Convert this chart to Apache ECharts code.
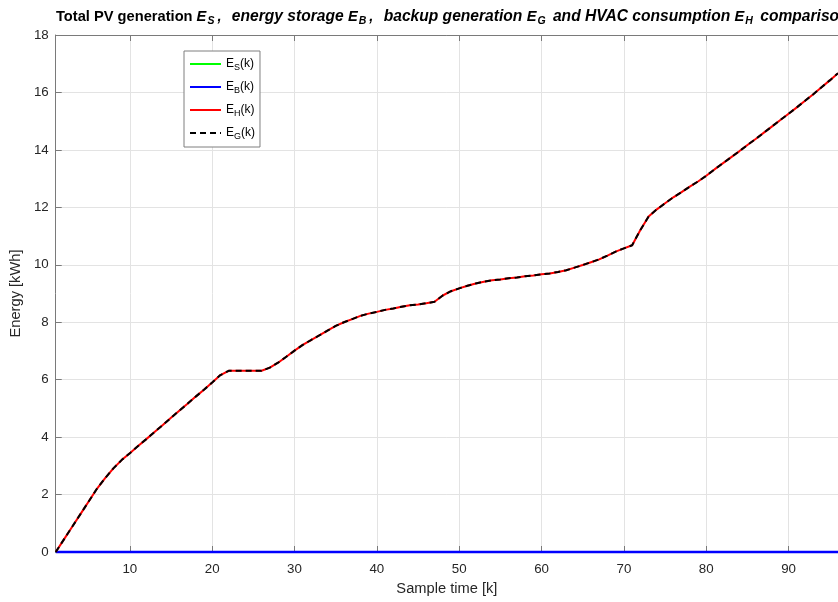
<!DOCTYPE html>
<html>
<head>
<meta charset="utf-8">
<script src="https://cdn.jsdelivr.net/npm/echarts@6/dist/echarts.min.js"></script>
<style>
  html, body { margin: 0; padding: 0; background: #fff; }
  #chart { width: 838px; height: 602px; }
</style>
</head>
<body>
<div id="chart"></div>
<script>
// Sample index k = 1 .. 96
const sampleTimes = [
  1, 2, 3, 4, 5, 6, 7, 8, 9, 10, 11, 12, 13, 14, 15, 16, 17, 18, 19, 20,
  21, 22, 23, 24, 25, 26, 27, 28, 29, 30, 31, 32, 33, 34, 35, 36, 37, 38, 39, 40,
  41, 42, 43, 44, 45, 46, 47, 48, 49, 50, 51, 52, 53, 54, 55, 56, 57, 58, 59, 60,
  61, 62, 63, 64, 65, 66, 67, 68, 69, 70, 71, 72, 73, 74, 75, 76, 77, 78, 79, 80,
  81, 82, 83, 84, 85, 86, 87, 88, 89, 90, 91, 92, 93, 94, 95, 96
];

// Cumulative PV generation E_S [kWh]
const energyPV = [
  0, 0, 0, 0, 0, 0, 0, 0, 0, 0, 0, 0, 0, 0, 0, 0, 0, 0, 0, 0,
  0, 0, 0, 0, 0, 0, 0, 0, 0, 0, 0, 0, 0, 0, 0, 0, 0, 0, 0, 0,
  0, 0, 0, 0, 0, 0, 0, 0, 0, 0, 0, 0, 0, 0, 0, 0, 0, 0, 0, 0,
  0, 0, 0, 0, 0, 0, 0, 0, 0, 0, 0, 0, 0, 0, 0, 0, 0, 0, 0, 0,
  0, 0, 0, 0, 0, 0, 0, 0, 0, 0, 0, 0, 0, 0, 0, 0
];

// Cumulative storage energy E_B [kWh]
const energyStorage = [
  0, 0, 0, 0, 0, 0, 0, 0, 0, 0, 0, 0, 0, 0, 0, 0, 0, 0, 0, 0,
  0, 0, 0, 0, 0, 0, 0, 0, 0, 0, 0, 0, 0, 0, 0, 0, 0, 0, 0, 0,
  0, 0, 0, 0, 0, 0, 0, 0, 0, 0, 0, 0, 0, 0, 0, 0, 0, 0, 0, 0,
  0, 0, 0, 0, 0, 0, 0, 0, 0, 0, 0, 0, 0, 0, 0, 0, 0, 0, 0, 0,
  0, 0, 0, 0, 0, 0, 0, 0, 0, 0, 0, 0, 0, 0, 0, 0
];

// Cumulative HVAC consumption E_H [kWh]
const energyHVAC = [
  0, 0.44, 0.88, 1.32, 1.76, 2.2, 2.57, 2.91, 3.2, 3.44,
  3.69, 3.93, 4.18, 4.42, 4.67, 4.92, 5.16, 5.41, 5.65, 5.9,
  6.16, 6.31, 6.31, 6.31, 6.31, 6.31, 6.42, 6.59, 6.8, 7.01,
  7.21, 7.38, 7.54, 7.71, 7.87, 8.0, 8.11, 8.22, 8.3, 8.36,
  8.43, 8.48, 8.54, 8.59, 8.62, 8.66, 8.71, 8.93, 9.08, 9.18,
  9.27, 9.35, 9.41, 9.46, 9.49, 9.53, 9.56, 9.6, 9.63, 9.67,
  9.7, 9.75, 9.81, 9.9, 9.99, 10.09, 10.19, 10.32, 10.46, 10.57,
  10.68, 11.21, 11.68, 11.93, 12.14, 12.35, 12.53, 12.72, 12.9, 13.1,
  13.32, 13.53, 13.74, 13.95, 14.17, 14.38, 14.6, 14.82, 15.04, 15.26,
  15.48, 15.71, 15.94, 16.18, 16.42, 16.67
];

// Cumulative backup generation E_G [kWh]
const energyBackup = [
  0, 0.44, 0.88, 1.32, 1.76, 2.2, 2.57, 2.91, 3.2, 3.44,
  3.69, 3.93, 4.18, 4.42, 4.67, 4.92, 5.16, 5.41, 5.65, 5.9,
  6.16, 6.31, 6.31, 6.31, 6.31, 6.31, 6.42, 6.59, 6.8, 7.01,
  7.21, 7.38, 7.54, 7.71, 7.87, 8.0, 8.11, 8.22, 8.3, 8.36,
  8.43, 8.48, 8.54, 8.59, 8.62, 8.66, 8.71, 8.93, 9.08, 9.18,
  9.27, 9.35, 9.41, 9.46, 9.49, 9.53, 9.56, 9.6, 9.63, 9.67,
  9.7, 9.75, 9.81, 9.9, 9.99, 10.09, 10.19, 10.32, 10.46, 10.57,
  10.68, 11.21, 11.68, 11.93, 12.14, 12.35, 12.53, 12.72, 12.9, 13.1,
  13.32, 13.53, 13.74, 13.95, 14.17, 14.38, 14.6, 14.82, 15.04, 15.26,
  15.48, 15.71, 15.94, 16.18, 16.42, 16.67
];

const seriesNames = ['E_S(k)', 'E_B(k)', 'E_H(k)', 'E_G(k)'];

const FONT = '"Liberation Sans", Arial, Helvetica, sans-serif';
const TEXT_COLOR = '#262626';
const AXIS_COLOR = '#7a7a7a';
const GRID_COLOR = '#e3e3e3';

function pairs(values) {
  return sampleTimes.map((k, i) => [k, values[i]]);
}

// Title styles: upright bold lead-in, then bold italic text with subscripts
const titleBase = { fontFamily: FONT, fontSize: 14.67, fontWeight: 'bold', color: '#000', lineHeight: 22 };
const titleSym = Object.assign({}, titleBase, { fontStyle: 'italic' });
const titleItalic = Object.assign({}, titleBase, { fontStyle: 'italic', fontSize: 15.6 });
const titleComma = Object.assign({}, titleSym, { padding: [0, 6, 0, 0] });
const titleSub = Object.assign({}, titleBase, { fontStyle: 'italic', fontSize: 10.5, padding: [9, 3, 0, 1] });

const chart = echarts.init(document.getElementById('chart'), null, { renderer: 'canvas' });

chart.setOption({
  animation: false,
  backgroundColor: '#fff',
  title: {
    left: 56,
    top: 6,
    padding: 0,
    text: '{b|Total PV generation }{e|E}{s|S}{c|,}{i| energy storage }{e|E}{s|B}{c|,}{i| backup generation }' +
          '{e|E}{s|G}{i| and HVAC consumption }{e|E}{s|H}{i| comparison}',
    textStyle: { rich: { b: titleBase, e: titleSym, i: titleItalic, c: titleComma, s: titleSub } }
  },
  legend: {
    orient: 'vertical',
    left: 184,
    top: 51,
    padding: [5, 5, 6, 5],
    backgroundColor: '#fff',
    borderColor: '#7f7f7f',
    borderWidth: 1,
    itemWidth: 31,
    itemHeight: 16,
    itemGap: 7,
    itemStyle: { opacity: 0 },
    data: seriesNames,
    formatter: function (name) {
      return name.replace(/E_(\w)\(k\)/, '{e|E}{s|$1}{e|(k)}');
    },
    textStyle: {
      fontFamily: FONT,
      fontSize: 12,
      color: '#000',
      lineHeight: 16,
      rich: {
        e: { fontFamily: FONT, fontSize: 12, color: '#000', lineHeight: 16 },
        s: { fontFamily: FONT, fontSize: 9, color: '#000', lineHeight: 16, padding: [7, 0, 0, 0] }
      }
    }
  },
  grid: {
    left: 52,
    top: 35,
    width: 788,
    height: 517,
    containLabel: false
  },
  xAxis: [
    {
      type: 'value',
      min: 1,
      max: 96,
      splitNumber: 9,
      name: 'Sample time [k]',
      nameLocation: 'middle',
      nameGap: 29,
      nameTextStyle: { fontFamily: FONT, fontSize: 14.67, color: TEXT_COLOR },
      axisLine: { show: true, lineStyle: { color: AXIS_COLOR, width: 1 } },
      axisTick: { show: true, inside: true, length: 6, lineStyle: { color: AXIS_COLOR } },
      axisLabel: {
        fontFamily: FONT, fontSize: 13.33, color: TEXT_COLOR, margin: 11,
        showMinLabel: false, showMaxLabel: false
      },
      splitLine: { show: true, lineStyle: { color: GRID_COLOR, width: 1 } }
    },
    {
      type: 'value',
      position: 'top',
      min: 1,
      max: 96,
      splitNumber: 9,
      axisLine: { show: true, lineStyle: { color: AXIS_COLOR, width: 1 } },
      axisTick: { show: true, inside: true, length: 6, lineStyle: { color: AXIS_COLOR } },
      axisLabel: { show: false },
      splitLine: { show: false }
    }
  ],
  yAxis: {
    type: 'value',
    min: 0,
    max: 18,
    interval: 2,
    name: 'Energy [kWh]',
    nameLocation: 'middle',
    nameGap: 25,
    nameTextStyle: { fontFamily: FONT, fontSize: 14.67, color: TEXT_COLOR },
    axisLine: { show: true, lineStyle: { color: AXIS_COLOR, width: 1 } },
    axisTick: { show: true, inside: true, length: 6, lineStyle: { color: AXIS_COLOR } },
    axisLabel: { fontFamily: FONT, fontSize: 13.33, color: TEXT_COLOR, margin: 7 },
    splitLine: { show: true, lineStyle: { color: GRID_COLOR, width: 1 } }
  },
  series: [
    {
      name: seriesNames[0],
      type: 'line',
      data: pairs(energyPV),
      showSymbol: false,
      symbol: 'none',
      clip: false,
      lineStyle: { color: '#00ff00', width: 2 },
      itemStyle: { color: '#00ff00' }
    },
    {
      name: seriesNames[1],
      type: 'line',
      data: pairs(energyStorage),
      showSymbol: false,
      symbol: 'none',
      clip: false,
      lineStyle: { color: '#0000ff', width: 2.5 },
      itemStyle: { color: '#0000ff' }
    },
    {
      name: seriesNames[2],
      type: 'line',
      data: pairs(energyHVAC),
      showSymbol: false,
      symbol: 'none',
      clip: false,
      lineStyle: { color: '#ff0000', width: 2 },
      itemStyle: { color: '#ff0000' }
    },
    {
      name: seriesNames[3],
      type: 'line',
      data: pairs(energyBackup),
      showSymbol: false,
      symbol: 'none',
      clip: false,
      lineStyle: { color: '#000000', width: 2, type: [6, 4] },
      itemStyle: { color: '#000000' }
    }
  ]
});
</script>
</body>
</html>
